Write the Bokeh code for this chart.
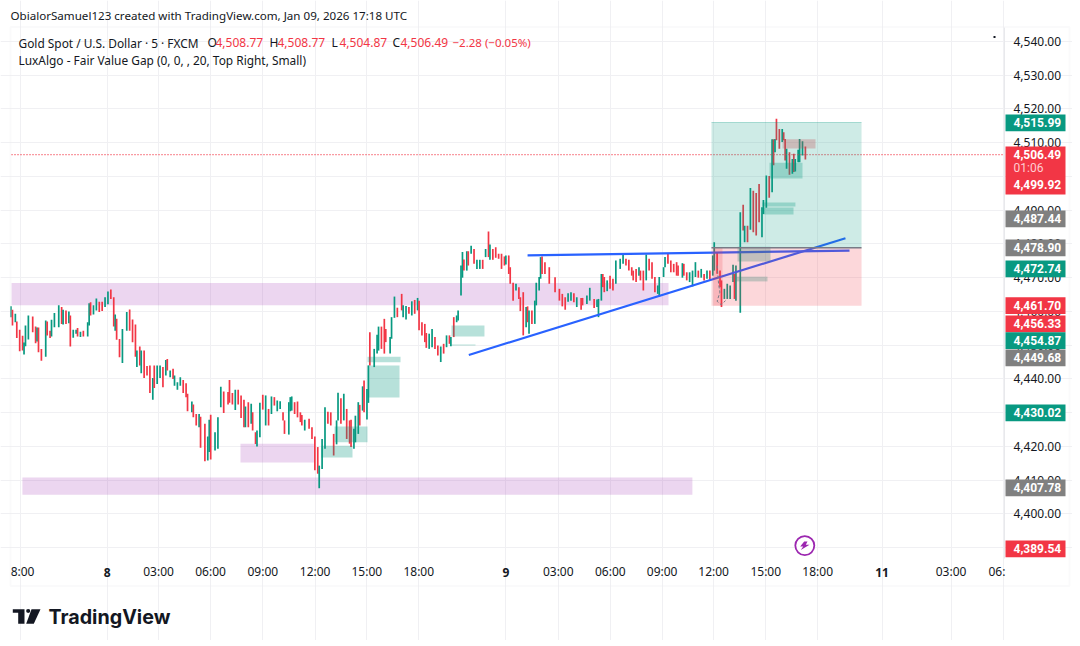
from bokeh.embed import file_html
from bokeh.resources import INLINE
from bokeh.plotting import figure
from bokeh.models import (BoxAnnotation, ColumnDataSource, FixedTicker, Label, NumeralTickFormatter,
                          PolyAnnotation, Range1d)

# ---- candle data (one visible bar per entry) ----
bar_index = [
    0,1,3,4,6,8,9,10,12,15,
    17,18,19,21,24,25,27,28,30,33,
    35,36,38,40,41,43,45,46,48,50,
    53,54,55,57,59,61,63,65,67,69,
    71,72,73,75,77,80,82,84,86,87,
    89,90,92,94,96,98,99,101,103,105,
    107,108,110,112,113,115,117,119,121,122,
    125,126,128,130,131,134,136,137,138,141,
    143,145,147,150,151,153,155,157,159,161,
    162,164,166,167,169,170,172,174,176,178,
    180,182,184,186,188,189,192,193,194,196,
    198,200,201,203,206,208,210,212,213,215,
    217,219,221,223,225,226,228,230,232,234,
    235,237,238,240,241,243,244,246,247,248,
    251,253,254,256,258,259,262,263,265,267,
    270,271,273,275,277,279,281,282,284,286,
    287,289,291,293,295,297,299,301,303,304,
    306,308,309,311,312,313,315,316,318,320,
    322,324,326,328,330,331,333,335,337,339,
    341,342,344,345,347,349,351,352,354,356,
    357,358,360,362,363,365,366,367,369,372,
    376,379,381,383,385,387,389,391,394,395,
    398,400,403,405,406,408,409,410,412,414,
    416,418,421,423,425,427,429,430,432,434,
    435,437,439,441,443,445,447,448,451,452,
    454,456,458,460,461,464,465,467,469,471,
    473,475,477,479,481,483,485,486,488,490,
    491,493,495,497,499,500,501,504,506,507,
    509,511,513,515,517,519,520,522,524,526,
    527,528,529,531,533,534,535,536,538,540,
    541,542,544,545,547,549,
]
bar_high = [
    4461.5,4460.5,4459.3,4457.0,4454.6,4452.8,4450.8,4455.8,4458.8,4458.5,
    4455.5,4455.2,4455.2,4448.9,4457.3,4457.0,4454.3,4457.5,4459.5,4461.8,
    4461.3,4460.5,4460.3,4460.0,4458.8,4454.6,4454.6,4455.1,4454.0,4454.3,
    4456.8,4462.4,4462.7,4461.8,4463.8,4462.9,4462.9,4464.2,4465.9,4466.5,
    4464.2,4459.1,4457.8,4451.8,4454.8,4459.8,4460.6,4457.6,4456.1,4448.4,
    4449.6,4448.4,4448.4,4443.8,4444.0,4440.3,4444.0,4444.0,4444.0,4443.5,
    4445.6,4445.9,4442.5,4443.0,4441.0,4439.0,4440.5,4439.7,4438.7,4435.6,
    4433.3,4432.4,4429.6,4429.6,4428.8,4426.7,4422.9,4427.9,4429.4,4424.2,
    4428.6,4437.7,4436.3,4436.1,4439.7,4435.8,4436.8,4436.8,4435.1,4433.8,
    4431.8,4433.1,4432.6,4430.1,4424.2,4424.7,4432.9,4435.3,4435.1,4431.1,
    4434.8,4434.6,4433.6,4433.4,4430.1,4427.7,4433.1,4434.6,4434.8,4433.1,
    4433.3,4430.1,4429.3,4427.9,4428.2,4425.7,4422.9,4419.8,4414.3,4422.2,
    4431.6,4430.3,4430.1,4423.7,4427.7,4435.9,4434.3,4435.6,4431.1,4427.7,
    4427.9,4425.2,4429.1,4433.1,4432.3,4437.8,4439.5,4437.0,4444.0,4453.8,
    4448.9,4453.1,4455.5,4455.5,4457.8,4454.8,4452.4,4458.3,4464.4,4461.1,
    4465.2,4461.8,4461.6,4461.3,4463.0,4463.4,4464.0,4463.2,4456.8,4456.3,
    4453.6,4453.4,4454.8,4452.4,4449.9,4449.6,4450.4,4452.9,4452.9,4452.4,
    4458.3,4458.8,4460.3,4473.6,4477.6,4475.4,4477.8,4477.8,4479.5,4478.5,
    4475.3,4475.3,4475.3,4478.5,4483.7,4479.8,4478.5,4479.0,4477.1,4477.1,
    4476.3,4476.6,4476.6,4473.1,4468.5,4468.2,4467.2,4464.2,4465.7,4461.3,
    4461.5,4460.3,4460.3,4463.2,4468.5,4470.2,4476.1,4476.3,4474.6,4473.1,
    4470.1,4466.7,4465.2,4464.2,4465.4,4465.7,4465.4,4464.2,4464.0,4464.0,
    4464.7,4467.0,4463.7,4463.5,4463.7,4471.1,4471.1,4470.2,4469.2,4470.6,
    4469.7,4475.1,4475.6,4477.3,4475.6,4475.3,4473.1,4472.1,4472.6,4473.1,
    4472.1,4472.1,4476.9,4475.6,4474.6,4470.2,4467.7,4470.2,4473.1,4476.1,
    4477.1,4475.1,4474.1,4474.6,4473.6,4474.3,4474.1,4471.6,4471.6,4472.1,
    4474.6,4472.1,4472.6,4471.1,4472.1,4472.1,4476.6,4480.5,4477.6,4472.1,
    4469.2,4466.7,4468.2,4467.7,4473.8,4471.1,4473.6,4489.4,4491.6,4485.4,
    4485.4,4496.6,4495.8,4495.1,4497.8,4490.9,4493.0,4500.3,4500.1,4511.0,
    4511.0,4511.1,4517.1,4514.1,4514.1,4513.1,4511.1,4508.2,4507.2,4505.2,
    4506.7,4505.2,4507.9,4511.1,4510.4,4508.9,
]
bar_low = [
    4458.3,4455.8,4456.8,4452.1,4448.2,4448.4,4447.2,4449.7,4451.7,4453.8,
    4450.6,4451.1,4447.9,4445.4,4446.6,4452.9,4452.1,4452.6,4455.3,4455.3,
    4456.3,4456.1,4456.3,4456.5,4449.6,4452.2,4453.4,4452.6,4452.4,4452.6,
    4452.6,4455.8,4458.8,4459.1,4460.3,4459.8,4460.1,4461.3,4462.1,4463.7,
    4455.5,4454.3,4451.6,4446.4,4444.7,4454.3,4454.3,4450.9,4446.6,4443.5,
    4444.0,4441.7,4440.3,4441.0,4435.8,4433.8,4437.3,4438.5,4440.3,4437.5,
    4441.0,4442.5,4440.5,4440.0,4438.0,4436.8,4438.0,4435.8,4434.6,4430.4,
    4430.1,4428.6,4426.2,4425.7,4419.6,4415.6,4415.8,4418.3,4416.1,4418.8,
    4419.3,4431.6,4429.9,4432.4,4432.9,4432.4,4430.8,4432.4,4428.4,4425.7,
    4425.7,4425.7,4426.7,4424.7,4420.7,4420.0,4422.7,4430.9,4426.2,4426.2,
    4429.6,4432.1,4430.4,4431.1,4427.7,4423.7,4423.5,4430.4,4430.6,4429.6,
    4428.6,4427.2,4426.2,4424.7,4425.2,4422.2,4412.9,4411.9,4407.6,4413.3,
    4419.3,4426.7,4426.2,4417.3,4420.6,4427.7,4426.7,4427.7,4422.2,4420.8,
    4419.8,4419.3,4421.2,4423.7,4426.2,4430.6,4430.1,4428.0,4432.9,4444.0,
    4443.5,4447.5,4448.4,4448.9,4447.5,4450.9,4447.5,4451.9,4458.1,4458.3,
    4460.3,4458.3,4457.6,4459.3,4458.8,4459.3,4460.3,4454.4,4452.9,4450.9,
    4449.2,4448.9,4449.4,4448.9,4446.9,4445.0,4447.5,4449.4,4450.4,4449.7,
    4452.4,4456.8,4457.3,4464.7,4470.0,4472.1,4472.1,4473.6,4477.1,4474.1,
    4472.6,4472.6,4472.6,4476.1,4476.1,4475.3,4475.3,4475.9,4475.6,4472.6,
    4473.6,4473.9,4471.1,4468.2,4463.2,4466.2,4463.7,4460.1,4452.9,4455.3,
    4456.8,4453.4,4456.3,4456.3,4461.8,4466.2,4469.7,4471.1,4471.1,4468.2,
    4465.7,4463.2,4461.5,4460.5,4462.9,4463.2,4462.7,4461.3,4460.5,4461.8,
    4462.2,4463.2,4461.0,4461.3,4458.3,4463.2,4467.2,4465.7,4466.0,4466.7,
    4466.2,4468.2,4472.6,4474.1,4473.6,4472.1,4470.6,4469.2,4468.7,4470.6,
    4469.2,4466.2,4469.2,4472.1,4469.7,4465.7,4465.2,4464.4,4470.2,4473.1,
    4474.1,4471.6,4471.6,4470.6,4470.6,4470.0,4470.6,4469.2,4468.7,4467.4,
    4470.2,4470.0,4470.0,4469.2,4469.7,4469.4,4470.6,4472.1,4471.2,4467.2,
    4461.3,4463.7,4463.7,4463.7,4468.7,4463.7,4463.2,4459.6,4484.0,4480.5,
    4480.5,4484.2,4483.5,4482.5,4486.4,4482.0,4488.9,4490.7,4493.7,4495.3,
    4503.3,4507.2,4510.7,4508.2,4510.2,4510.7,4504.7,4502.3,4500.5,4500.8,
    4501.3,4501.5,4504.2,4504.2,4506.2,4505.0,
]
bar_up = [
    1,0,1,0,0,0,1,1,1,0,
    0,1,0,0,1,0,0,1,1,1,
    0,1,0,1,0,1,1,0,1,0,
    1,1,0,1,1,0,0,1,1,0,
    0,1,0,0,1,1,0,0,0,1,
    0,1,0,0,0,1,0,1,1,0,
    1,0,1,0,1,1,1,0,0,0,
    1,0,0,1,0,0,1,1,0,1,
    1,1,0,0,0,0,1,0,0,0,
    1,0,1,0,0,1,1,0,1,0,
    1,0,1,1,0,0,1,1,1,0,
    0,0,0,1,0,0,0,0,1,1,
    1,0,0,0,1,1,0,1,0,0,
    0,1,1,1,0,1,0,1,1,0,
    1,1,1,0,0,0,1,1,1,0,
    0,1,1,0,1,0,1,0,0,0,
    0,1,1,0,0,1,0,1,0,1,
    0,1,1,1,1,0,1,0,1,0,
    1,1,0,1,0,1,0,0,0,0,
    0,1,0,0,0,1,0,0,0,1,
    0,1,0,1,1,1,1,0,0,0,
    0,0,0,0,1,1,0,1,0,0,
    1,1,0,1,1,1,0,0,1,0,
    0,1,1,1,0,0,0,0,0,1,
    0,0,1,0,0,0,1,1,1,1,
    0,0,0,0,0,1,0,0,1,1,
    1,0,1,0,1,0,1,1,0,0,
    0,1,1,1,1,0,1,1,0,1,
    0,1,0,0,0,1,1,1,0,1,
    0,1,0,0,1,0,0,1,0,1,
    0,1,1,1,1,0,
]

# ---- zones: left bar, right bar, low price, high price ----
band_left, band_right = [0.35, 158.6, 7.9], [454.4, 209.3, 470.9]
band_low, band_high = [4461.8, 4415.2, 4405.7], [4468.4, 4420.8, 4410.8]

gap_left = [246.4, 246.4, 223.6, 214.4, 304.4, 304.4, 519.3, 519.3, 524.2, 502.1, 501.4]
gap_right = [269.2, 268.5, 246.4, 236.0, 327.2, 321.0, 542.1, 540.8, 547.0, 524.9, 522.8]
gap_low = [4444.9, 4434.5, 4421.2, 4416.7, 4452.6, 4449.9, 4491.1, 4488.7, 4499.4, 4474.8, 4468.9]
gap_high = [4446.6, 4444.0, 4425.9, 4420.2, 4455.8, 4450.2, 4492.3, 4490.8, 4504.1, 4479.2, 4470.3]
bear_left, bear_right, bear_low, bear_high = [533.2], [556.0], [4508.3], [4511.0]

# position tool
pos_left, pos_right = 484.1, 587.8
pos_top, pos_entry, pos_stop = 4515.99, 4478.90, 4461.70
drop_left, drop_right = 485.5, 491.7
path_x = [488, 489, 489.9, 488, 490.8, 493.8]
path_y = [4473.6, 4468.2, 4465.7, 4463.0, 4462.0, 4463.2]

# trend lines
upper_x, upper_y = [357, 579.5], [4476.6, 4478.0]
lower_x, lower_y = [316.4, 576.7], [4447.1, 4481.7]

last_close = 4506.49

# ---- axes ----
price_ticks = [4390, 4400, 4410, 4420, 4430, 4440, 4450, 4460, 4470, 4480, 4490, 4500, 4510, 4520, 4530, 4540]
grid_bars = [6.4, 66.5, 102, 137.9, 174, 210.2, 245.9, 281.8, 342, 378.2, 414.2, 450, 485.6, 521.6, 557.5, 602, 649.7, 685.9]
time_bars = [8, 102, 137.9, 174, 210.2, 245.9, 281.8, 378.2, 414.2, 450, 485.6, 521.6, 557.5, 649.7, 681.4]
time_labels = ["8:00", "03:00", "06:00", "09:00", "12:00", "15:00", "18:00", "03:00", "06:00", "09:00", "12:00", "15:00", "18:00", "03:00", "06:"]
day_bars, day_labels = [66.5, 342, 602], ["8", "9", "11"]
bar_min, bar_max, price_min, price_max = 0.35, 686.6, 4386.77, 4544.15

# ---- price tags ----
tag_texts = ["4,515.99", "4,506.49", "01:06", "4,499.92", "4,487.44", "4,478.90", "4,472.74", "4,461.70",
             "4,456.33", "4,454.87", "4,449.68", "4,430.02", "4,407.78", "4,389.54"]
tag_kinds = ["g", "r", "r", "r", "k", "k", "g", "r", "r", "g", "k", "g", "k", "r"]
tag_y_px = [122.3, 153.8, 167.8, 184.3, 218.3, 247.3, 268.3, 305, 323.3, 340, 357.3, 412.3, 487.3, 548.3]
block_tops = [114, 146, 210, 239, 260, 296.7, 315, 331.7, 349, 404, 479, 540]
block_bottoms = [130.7, 194, 226.7, 255.7, 276.7, 313.4, 331.7, 348.4, 365.7, 420.7, 495.7, 556.7]
block_kinds = ["g", "r", "k", "k", "g", "r", "r", "g", "k", "g", "k", "r"]

GREEN, RED, GREY, INK, PURPLE, BLUE = "#089981", "#F23645", "#808080", "#131722", "#9C27B0", "#2962FF"
GRID = "#F0F0F3"
FONT = "Noto Sans"
tag_fill = {"g": GREEN, "r": RED, "k": GREY}

# the frame fills the whole canvas so that canvas-placed annotations are not clipped
p = figure(width=1072, height=640, min_border=0, output_backend="svg", toolbar_location=None,
           x_range=Range1d(-7.26, 733.6), y_range=Range1d(4362.47, 4552.15), y_axis_location="right",
           background_fill_color="white", border_fill_color="white", outline_line_color=None)

yax, xax = p.yaxis[0], p.xaxis[0]
yax.fixed_location = bar_max
xax.fixed_location = price_min
yax.bounds = (price_min, price_max)
yax.ticker = FixedTicker(ticks=price_ticks)
yax.formatter = NumeralTickFormatter(format="0,0.00")
yax.axis_line_color = "#E8E9EC"
xax.axis_line_color = None
xax.ticker = FixedTicker(ticks=time_bars)
xax.major_label_overrides = dict(zip(time_bars, time_labels))
for ax in (xax, yax):
    ax.major_tick_line_color = None
    ax.minor_tick_line_color = None
    ax.major_tick_out = 0
    ax.major_tick_in = 0
    ax.major_label_text_font = FONT
    ax.major_label_text_font_size = "12px"
    ax.major_label_text_color = INK
yax.major_label_standoff = 9
xax.major_label_standoff = 4
p.xgrid[0].ticker = FixedTicker(ticks=grid_bars)
p.ygrid[0].ticker = FixedTicker(ticks=price_ticks)
p.xgrid[0].bounds = (price_min, price_max)
p.ygrid[0].bounds = (bar_min, bar_max)
p.xgrid[0].grid_line_color = GRID
p.ygrid[0].grid_line_color = GRID

# purple zones
p.quad(left=band_left, right=band_right, bottom=band_low, top=band_high, fill_color=PURPLE, fill_alpha=0.19, line_color=None)

# candles
bars = ColumnDataSource(dict(x=bar_index, high=bar_high, low=bar_low,
                             color=[GREEN if u else RED for u in bar_up]))
p.segment(x0="x", x1="x", y0="low", y1="high", color="color", line_width=1.7, source=bars)

# last price line
p.line(x=[bar_min, bar_max], y=[last_close, last_close], line_color=RED, line_width=1.3, line_dash=[1, 2])

# trend lines
p.line(x=upper_x, y=upper_y, line_color=BLUE, line_width=2.2)
p.line(x=lower_x, y=lower_y, line_color=BLUE, line_width=2.2)

# fair value gaps
p.quad(left=gap_left, right=gap_right, bottom=gap_low, top=gap_high, fill_color=GREEN, fill_alpha=0.29, line_color=None)
p.quad(left=bear_left, right=bear_right, bottom=bear_low, top=bear_high, fill_color=RED, fill_alpha=0.29, line_color=None)

# position tool
p.quad(left=[pos_left], right=[pos_right], bottom=[pos_entry], top=[pos_top], fill_color=GREEN, fill_alpha=0.2, line_color=None)
p.quad(left=[pos_left], right=[pos_right], bottom=[pos_stop], top=[pos_entry], fill_color=RED, fill_alpha=0.2, line_color=None)
p.quad(left=[drop_left], right=[drop_right], bottom=[pos_stop], top=[pos_entry], fill_color=RED, fill_alpha=0.2, line_color=None)
p.line(x=[pos_left, pos_right], y=[pos_entry, pos_entry], line_color="#787B86", line_width=1.5)
p.line(x=[pos_left, pos_right], y=[pos_top, pos_top], line_color=GREEN, line_alpha=0.3, line_width=1)
p.line(x=path_x, y=path_y, line_color="#787B86", line_width=1, line_dash=[3, 2])

# stray mark and lightning badge
p.scatter(x=[679.7], y=[4541.3], marker="square", size=2, color=INK, line_color=None)
p.scatter(x=[548.6], y=[4390.6], marker="circle", size=19, fill_color="white", line_color=PURPLE, line_width=1.8)


def canvas_label(px, py, text, color=INK, size="12px", style="normal", font=FONT, align="left"):
    p.add_layout(Label(x=px, y=py, x_units="canvas", y_units="canvas", text=text, text_color=color,
                       text_font=font, text_font_size=size, text_font_style=style, text_align=align,
                       text_baseline="middle"))


def poly(xs, ys, color):
    p.add_layout(PolyAnnotation(xs=xs, ys=ys, xs_units="canvas", ys_units="canvas",
                                fill_color=color, fill_alpha=1, line_color=None))


poly([803.7, 799.7, 802.7, 800.3, 809, 805.3, 807], [541, 546, 546, 549.5, 544.3, 544.3, 541], PURPLE)

# chart frame
p.add_layout(BoxAnnotation(left=10, right=1069, top=26.5, bottom=585.5, left_units="canvas",
                           right_units="canvas", top_units="canvas", bottom_units="canvas", fill_alpha=0,
                           line_color="#EFEFF1", line_width=2))

# day labels on the time axis
for bar, text in zip(day_bars, day_labels):
    p.add_layout(Label(x=bar, y=571.5, x_units="data", y_units="canvas", text=text, text_color=INK, text_font=FONT,
                       text_font_size="12px", text_font_style="bold", text_align="center", text_baseline="middle"))

# price tags
for top, bottom, kind in zip(block_tops, block_bottoms, block_kinds):
    p.add_layout(BoxAnnotation(left=1005, right=1065, top=top, bottom=bottom, left_units="canvas", right_units="canvas",
                               top_units="canvas", bottom_units="canvas", fill_color=tag_fill[kind], fill_alpha=1,
                               line_color=None))
for text, y_px in zip(tag_texts, tag_y_px):
    if text == "01:06":
        canvas_label(1013, y_px, text, color="#FFCDD2", font="Roboto")
    else:
        canvas_label(1013, y_px, text, color="white", style="bold", font="Roboto")

# header, legend
canvas_label(10, 15, "ObialorSamuel123 created with TradingView.com, Jan 09, 2026 17:18 UTC", size="11.6px")
canvas_label(18, 42, "Gold Spot / U.S. Dollar · 5 · FXCM", size="11.9px")
for x_l, letter, x_v, value in zip([207, 269, 331, 392], "OHLC", [215, 277, 339, 400],
                                   ["4,508.77", "4,508.77", "4,504.87", "4,506.49"]):
    canvas_label(x_l, 42, letter)
    canvas_label(x_v, 42, value, color=RED)
canvas_label(452, 42, "−2.28 (−0.05%)", color=RED, size="11.5px")
canvas_label(18, 59, "LuxAlgo - Fair Value Gap (0, 0, , 20, Top Right, Small)", size="11.9px")

# logo
poly([12.3, 24, 24, 17.7, 17.7, 12.3], [608.7, 608.7, 623.3, 623.3, 612.3, 612.3], "#131722")
poly([31, 40, 33.3, 25.7], [608.7, 608.7, 623.3, 623.3], "#131722")
poly([27.7, 29.4, 29.7, 29.4, 27.7, 26, 25.7, 26], [608.4, 609, 610.4, 611.8, 612.4, 611.8, 610.4, 609], "#131722")
canvas_label(48, 616, "TradingView", color="#131722", size="19.7px", style="bold", font="Inter")

open("out.html", "w").write(file_html(p, INLINE))
